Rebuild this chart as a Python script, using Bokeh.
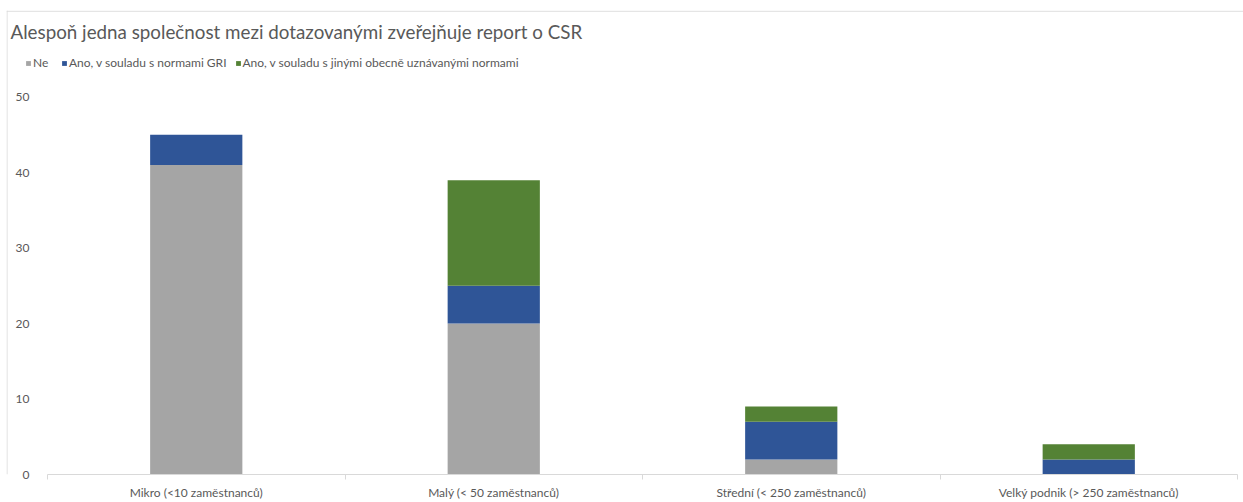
from bokeh.plotting import figure
from bokeh.models import ColumnDataSource, Range1d, FixedTicker, Legend, Label, Span
from bokeh.embed import file_html
from bokeh.resources import INLINE

categories = ["Mikro (<10 zaměstnanců)", "Malý (< 50 zaměstnanců)",
              "Střední (< 250 zaměstnanců)", "Velký podnik (> 250 zaměstnanců)"]
series = ["Ne", "Ano, v souladu s normami GRI", "Ano, v souladu s jinými obecně uznávanými normami"]
ne = [41, 20, 2, 0]
gri = [4, 5, 5, 2]
jine = [0, 14, 2, 2]
y_ticks = [0, 10, 20, 30, 40, 50]
colors = ["#a5a5a5", "#2f5597", "#548235"]
title = "Alespoň jedna společnost mezi dotazovanými zveřejňuje report o CSR"

FONT = "Lato"
TXT = "#595959"
BORDER = "#d9d9d9"

n = len(categories)
xs = [i + 0.5 for i in range(n)]
source = ColumnDataSource(dict(x=xs, s0=ne, s1=gri, s2=jine))

y_top = 50 * 466 / 379
# frame spans the whole chart box; the category area sits inside it
p = figure(width=1243, height=502, output_backend="svg", toolbar_location=None,
           x_range=Range1d(-41 / 297.5, n + 6 / 297.5), y_range=Range1d(0, y_top),
           min_border_left=6, min_border_right=0, min_border_top=10, min_border_bottom=26)

renderers = p.vbar_stack(["s0", "s1", "s2"], x="x", width=0.31, source=source,
                         color=colors, line_color=None)

legend = Legend(items=[(series[i], [renderers[i]]) for i in range(3)],
                orientation="horizontal", label_text_font=FONT, label_text_font_size="12px",
                label_text_color=TXT, glyph_width=6, glyph_height=6, label_standoff=2,
                spacing=8, padding=0, margin=0, border_line_color=None,
                background_fill_alpha=0, label_height=12, location=(19, 404))
p.add_layout(legend)

p.add_layout(Label(x=4, y=443, x_units="screen", y_units="screen", text=title,
                   text_font=FONT, text_font_size="18.8px", text_color=TXT,
                   text_baseline="middle", text_align="left"))

# chart border (left and top edges)
p.add_layout(Span(location=0.5, location_units="screen", dimension="height",
                  line_color=BORDER, line_width=1))
p.add_layout(Span(location=y_top * (1 - 0.7 / 466), dimension="width",
                  line_color=BORDER, line_width=1))

p.xgrid.visible = False
p.ygrid.visible = False
p.outline_line_color = None

p.yaxis.ticker = FixedTicker(ticks=y_ticks)
p.yaxis.axis_line_color = None
p.yaxis.major_tick_line_color = None
p.yaxis.minor_tick_line_color = None
p.yaxis.major_label_text_font = FONT
p.yaxis.major_label_text_font_size = "12px"
p.yaxis.major_label_text_color = TXT
p.yaxis.major_label_standoff = -29

p.xaxis.bounds = (0, n)
p.xaxis.ticker = FixedTicker(ticks=xs, minor_ticks=list(range(n + 1)))
p.xaxis.major_label_overrides = {x: c for x, c in zip(xs, categories)}
p.xaxis.axis_line_color = BORDER
p.xaxis.major_tick_line_color = None
p.xaxis.minor_tick_line_color = BORDER
p.xaxis.minor_tick_out = 5
p.xaxis.minor_tick_in = 0
p.xaxis.major_label_text_font = FONT
p.xaxis.major_label_text_font_size = "12px"
p.xaxis.major_label_text_color = TXT
p.xaxis.major_label_standoff = 4

open("out.html", "w").write(file_html(p, INLINE))
